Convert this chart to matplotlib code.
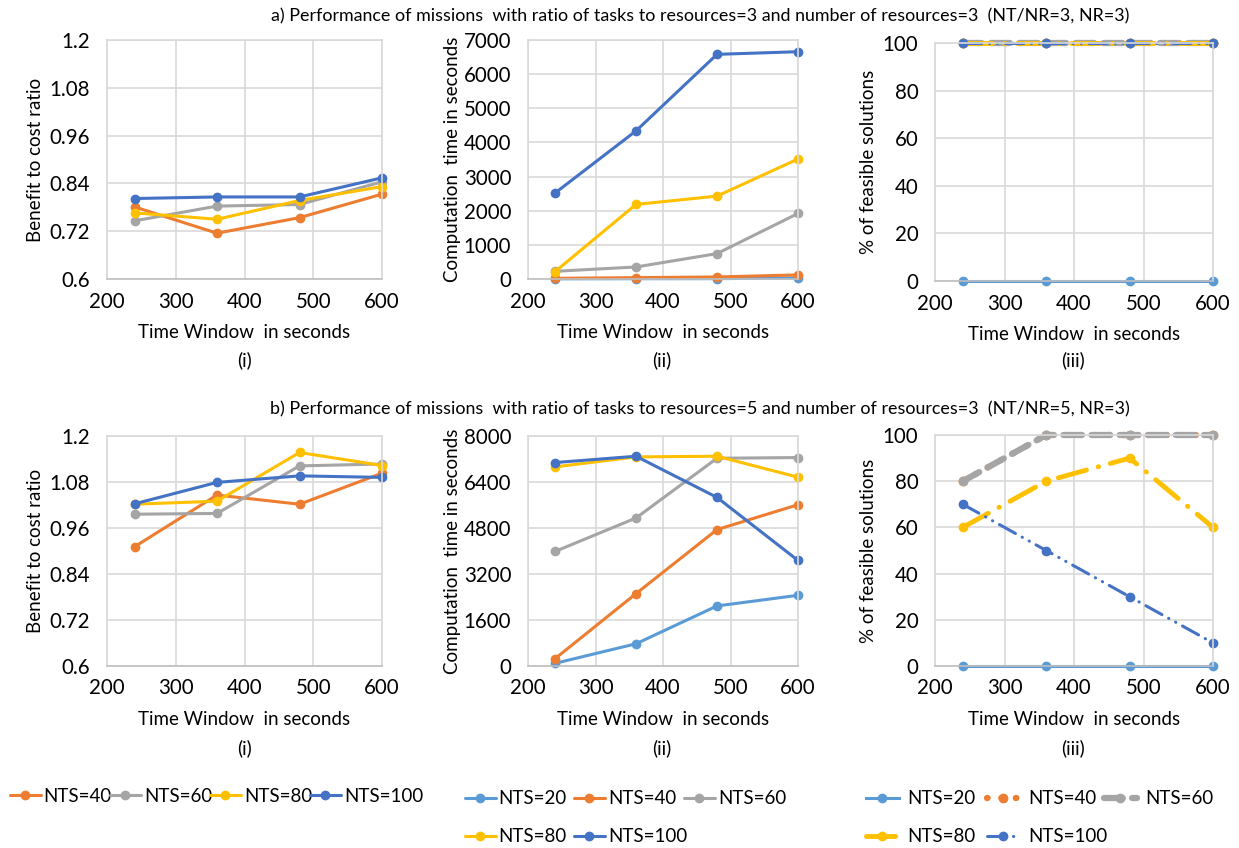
import matplotlib
matplotlib.use("Agg")
import matplotlib.pyplot as plt

plt.rcParams['font.family'] = ['Lato', 'DejaVu Sans']

# ---------------- data ----------------
time_window = [240, 360, 480, 600]

# a) NT/NR=3, NR=3
a_ratio_nts40 = [0.781, 0.715, 0.754, 0.813]
a_ratio_nts60 = [0.746, 0.783, 0.787, 0.844]
a_ratio_nts80 = [0.766, 0.750, 0.797, 0.832]
a_ratio_nts100 = [0.802, 0.806, 0.806, 0.854]

a_time_nts20 = [5, 8, 10, 30]
a_time_nts40 = [20, 40, 60, 120]
a_time_nts60 = [225, 352, 744, 1919]
a_time_nts80 = [215, 2184, 2428, 3515]
a_time_nts100 = [2517, 4338, 6580, 6657]

a_feas_nts20 = [0, 0, 0, 0]
a_feas_nts40 = [100, 100, 100, 100]
a_feas_nts60 = [100, 100, 100, 100]
a_feas_nts80 = [100, 100, 100, 100]
a_feas_nts100 = [100, 100, 100, 100]

# b) NT/NR=5, NR=3
b_ratio_nts40 = [0.911, 1.046, 1.022, 1.103]
b_ratio_nts60 = [0.996, 0.998, 1.122, 1.127]
b_ratio_nts80 = [1.022, 1.030, 1.157, 1.123]
b_ratio_nts100 = [1.023, 1.079, 1.096, 1.092]

b_time_nts20 = [92, 773, 2089, 2459]
b_time_nts40 = [254, 2517, 4745, 5610]
b_time_nts60 = [3983, 5148, 7226, 7250]
b_time_nts80 = [6926, 7273, 7296, 6568]
b_time_nts100 = [7076, 7296, 5864, 3671]

b_feas_nts20 = [0, 0, 0, 0]
b_feas_nts40 = [80, 100, 100, 100]
b_feas_nts60 = [80, 100, 100, 100]
b_feas_nts80 = [60, 80, 90, 60]
b_feas_nts100 = [70, 50, 30, 10]

labels5 = ['NTS=20', 'NTS=40', 'NTS=60', 'NTS=80', 'NTS=100']
ratio_yticks = [0.6, 0.72, 0.84, 0.96, 1.08, 1.2]
ratio_yticklabels = ['0.6', '0.72', '0.84', '0.96', '1.08', '1.2']
a_time_yticks = [0, 1000, 2000, 3000, 4000, 5000, 6000, 7000]
b_time_yticks = [0, 1600, 3200, 4800, 6400, 8000]
feas_yticks = [0, 20, 40, 60, 80, 100]
x_ticks = [200, 300, 400, 500, 600]

# ---------------- style ----------------
C20 = '#5B9BD5'
C40 = '#ED7D31'
C60 = '#A5A5A5'
C80 = '#FFC000'
C100 = '#4472C4'
colors5 = [C20, C40, C60, C80, C100]
GRID = '#D9D9D9'
TXT = '#000000'
FS_TICK = 14.8
FS_LAB = 13.5
FS_TITLE = 12.9

W, H = 1239, 848
fig = plt.figure(figsize=(W / 100, H / 100), dpi=100)


def make_ax(l, r, t, b):
    ax = fig.add_axes([l / W, 1 - b / H, (r - l) / W, (b - t) / H])
    for s in ax.spines.values():
        s.set_color(GRID)
        s.set_linewidth(1.2)
    ax.spines['bottom'].set_color('#BFBFBF')
    ax.grid(True, color=GRID, linewidth=1.2)
    ax.set_axisbelow(True)
    ax.tick_params(length=0, labelsize=FS_TICK, colors=TXT)
    ax.tick_params(axis='x', pad=9)
    ax.tick_params(axis='y', pad=12)
    ax.set_xlim(200, 600)
    ax.set_xticks(x_ticks)
    ax.set_xlabel('Time Window  in seconds', fontsize=FS_LAB, labelpad=9)
    return ax


lw = 2.2
ms = 6

solid_kw = dict(lw=lw, marker='o', ms=ms, solid_capstyle='round')

# feasibility line styles
feas_styles = [
    dict(ls='-', lw=2.2),
    dict(ls=(0, (0.1, 2.2)), lw=4.5, dash_capstyle='round'),
    dict(ls=(0, (3, 1.5)), lw=4.5, dash_capstyle='round'),
    dict(ls=(0, (6, 2.5, 0.1, 2.5)), lw=3.5, dash_capstyle='round'),
    dict(ls=(0, (6, 2.5, 0.1, 2.5, 0.1, 2.5)), lw=2.2, dash_capstyle='round'),
]

rows = [
    dict(top=40, bot=279,
         ratio=[a_ratio_nts40, a_ratio_nts60, a_ratio_nts80, a_ratio_nts100],
         time=[a_time_nts20, a_time_nts40, a_time_nts60, a_time_nts80, a_time_nts100],
         feas=[a_feas_nts20, a_feas_nts40, a_feas_nts60, a_feas_nts80, a_feas_nts100],
         tyt=a_time_yticks, tlim=7000, ftop=43, fbot=281),
    dict(top=436, bot=666,
         ratio=[b_ratio_nts40, b_ratio_nts60, b_ratio_nts80, b_ratio_nts100],
         time=[b_time_nts20, b_time_nts40, b_time_nts60, b_time_nts80, b_time_nts100],
         feas=[b_feas_nts20, b_feas_nts40, b_feas_nts60, b_feas_nts80, b_feas_nts100],
         tyt=b_time_yticks, tlim=8000, ftop=435, fbot=666),
]

handles_ratio = handles_time = handles_feas = None
for r in rows:
    ax1 = make_ax(107, 382, r['top'], r['bot'])
    hr = []
    for vals, c, lab in zip(r['ratio'], colors5[1:], labels5[1:]):
        h, = ax1.plot(time_window, vals, color=c, label=lab, **solid_kw)
        hr.append(h)
    ax1.set_ylim(0.6, 1.2)
    ax1.set_yticks(ratio_yticks)
    ax1.set_yticklabels(ratio_yticklabels)
    ax1.set_ylabel('Benefit to cost ratio', fontsize=FS_LAB, labelpad=4)

    ax2 = make_ax(528, 798, r['top'], r['bot'])
    ht = []
    for vals, c, lab in zip(r['time'], colors5, labels5):
        h, = ax2.plot(time_window, vals, color=c, label=lab, **solid_kw)
        ht.append(h)
    ax2.set_ylim(0, r['tlim'])
    ax2.set_yticks(r['tyt'])
    ax2.set_ylabel('Computation  time in seconds', fontsize=FS_LAB, labelpad=2)

    ax3 = make_ax(935, 1213, r['ftop'], r['fbot'])
    hf = []
    for vals, c, lab, st in zip(r['feas'], colors5, labels5, feas_styles):
        h, = ax3.plot(time_window, vals, color=c, label=lab, marker='o', ms=ms, **st)
        hf.append(h)
    ax3.set_ylim(0, 100)
    ax3.set_yticks(feas_yticks)
    ax3.set_ylabel('% of feasible solutions', fontsize=FS_LAB, labelpad=4)
    for a in (ax1, ax2, ax3):
        for art in a.lines:
            art.set_clip_on(False)
    handles_ratio, handles_time, handles_feas = hr, ht, hf

# titles and sub labels
fig.text(700 / W, 1 - 16 / H,
         'a) Performance of missions  with ratio of tasks to resources=3 and number of resources=3  (NT/NR=3, NR=3)',
         ha='center', va='center', fontsize=FS_TITLE)
fig.text(700 / W, 1 - 409 / H,
         'b) Performance of missions  with ratio of tasks to resources=5 and number of resources=3  (NT/NR=5, NR=3)',
         ha='center', va='center', fontsize=FS_TITLE)
for y in (360, 748):
    for x, s in ((244, '(i)'), (662, '(ii)'), (1073, '(iii)')):
        fig.text(x / W, 1 - y / H, s, ha='center', va='center', fontsize=FS_LAB)


# legends: one entry each, placed where the reference shows them
def put_entry(handle, label, x, y, hl=1.65, htp=0.15):
    fig.legend([handle], [label], loc='center left',
               bbox_to_anchor=(x / W, 1 - y / H), frameon=False,
               fontsize=FS_LAB, handlelength=hl, handletextpad=htp,
               numpoints=1, borderaxespad=0, borderpad=0)


for h, lab, x in zip(handles_ratio, labels5[1:], [10, 110, 210, 310]):
    put_entry(h, lab, x, 796)

mid_pos = [(465, 799), (574, 799), (684, 799), (465, 837), (574, 837)]
for h, lab, (x, y) in zip(handles_time, labels5, mid_pos):
    put_entry(h, lab, x, y)

right_pos = [(866, 799), (987, 799), (1104, 799), (866, 837), (987, 837)]
for h, lab, (x, y) in zip(handles_feas, labels5, right_pos):
    put_entry(h, lab, x, y, hl=1.75, htp=0.45)

fig.savefig('out.png', dpi=100)
